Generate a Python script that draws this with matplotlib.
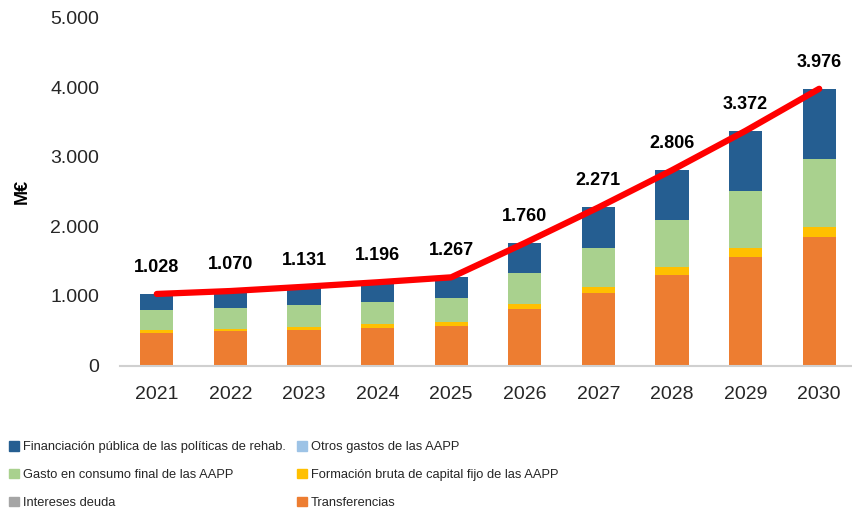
import matplotlib

matplotlib.use("Agg")
import matplotlib.pyplot as plt
import numpy as np
from matplotlib import font_manager
from matplotlib.patches import Patch
from matplotlib.ticker import FuncFormatter

YEARS = ["2021", "2022", "2023", "2024", "2025", "2026", "2027", "2028", "2029", "2030"]
TRANSFERENCIAS = [463, 492, 512, 545, 574, 808, 1043, 1296, 1564, 1846]
INTERESES = [0, 0, 0, 0, 0, 0, 0, 0, 0, 0]
FBCF = [49, 33, 47, 47, 53, 72, 86, 115, 129, 148]
OTROS = [0, 0, 0, 0, 0, 0, 0, 0, 0, 0]
CONSUMO = [281, 296, 316, 316, 349, 445, 564, 684, 818, 980]
FINANCIACION = [235, 249, 256, 288, 291, 435, 578, 711, 861, 1002]
TOTAL = [1028, 1070, 1131, 1196, 1267, 1760, 2271, 2806, 3372, 3976]

ORANGE = "#ED7D31"
GRAY = "#A5A5A5"
YELLOW = "#FFC000"
LIGHTBLUE = "#9DC3E6"
GREEN = "#A9D18E"
BLUE = "#255E91"
RED = "#FF0000"
INK = "#262626"

names = {f.name for f in font_manager.fontManager.ttflist}
NARROW = "Liberation Sans Narrow" in names
LEG_FONT = "Liberation Sans Narrow" if NARROW else "Liberation Sans"
LEG_SIZE = 10.2 if NARROW else 9.3

plt.rcParams.update({"font.family": ["Liberation Sans", "DejaVu Sans"],
                     "text.color": INK})


def thousands(v, _):
    return f"{int(v):,}".replace(",", ".")


fig = plt.figure(figsize=(8.52, 5.16), dpi=100)
ax = fig.add_axes([120 / 852, 150.5 / 516, 736 / 852, 348 / 516])

x = np.arange(len(YEARS))
w = 0.45
series = [(TRANSFERENCIAS, ORANGE), (INTERESES, GRAY), (FBCF, YELLOW),
          (OTROS, LIGHTBLUE), (CONSUMO, GREEN), (FINANCIACION, BLUE)]
bottom = np.zeros(len(YEARS))
for vals, col in series:
    ax.bar(x, vals, w, bottom=bottom, color=col, lw=0, zorder=2)
    bottom += np.array(vals)

ax.plot(x, TOTAL, color=RED, lw=4.5, solid_capstyle="round", zorder=3)
for xi, v in zip(x, TOTAL):
    ax.annotate(thousands(v, None), (xi, v), textcoords="offset points",
                xytext=(0, 16), ha="center", va="baseline", fontsize=13,
                fontweight="bold", color="black", zorder=4)

ax.set_xlim(-0.5, len(YEARS) - 0.5)
ax.set_ylim(0, 5000)
ax.set_yticks(range(0, 5001, 1000))
ax.yaxis.set_major_formatter(FuncFormatter(thousands))
ax.set_xticks(x)
ax.set_xticklabels(YEARS)
ax.tick_params(axis="both", length=0, labelsize=14, colors=INK)
ax.tick_params(axis="y", pad=15)
ax.tick_params(axis="x", pad=15)
for s in ["top", "right", "left"]:
    ax.spines[s].set_visible(False)
ax.spines["bottom"].set_color("#D0D0D0")
ax.spines["bottom"].set_linewidth(1.5)
ax.set_ylabel("M€", fontsize=13, fontweight="bold", color="black", labelpad=14)

handles = [Patch(color=BLUE), Patch(color=GREEN), Patch(color=GRAY),
           Patch(color=LIGHTBLUE), Patch(color=YELLOW), Patch(color=ORANGE)]
labels = ["Financiación pública de las políticas de rehab.",
          "Gasto en consumo final de las AAPP",
          "Intereses deuda",
          "Otros gastos de las AAPP",
          "Formación bruta de capital fijo de las AAPP",
          "Transferencias"]
fig.legend(handles, labels, ncol=2, loc="upper left",
           bbox_to_anchor=(4 / 852, 1 - 436 / 516), frameon=False,
           prop={"family": LEG_FONT, "size": LEG_SIZE},
           handlelength=0.75, handleheight=0.75, handletextpad=0.3,
           labelspacing=1.2, columnspacing=0.9, borderaxespad=0)

fig.savefig("out.png", dpi=100)
